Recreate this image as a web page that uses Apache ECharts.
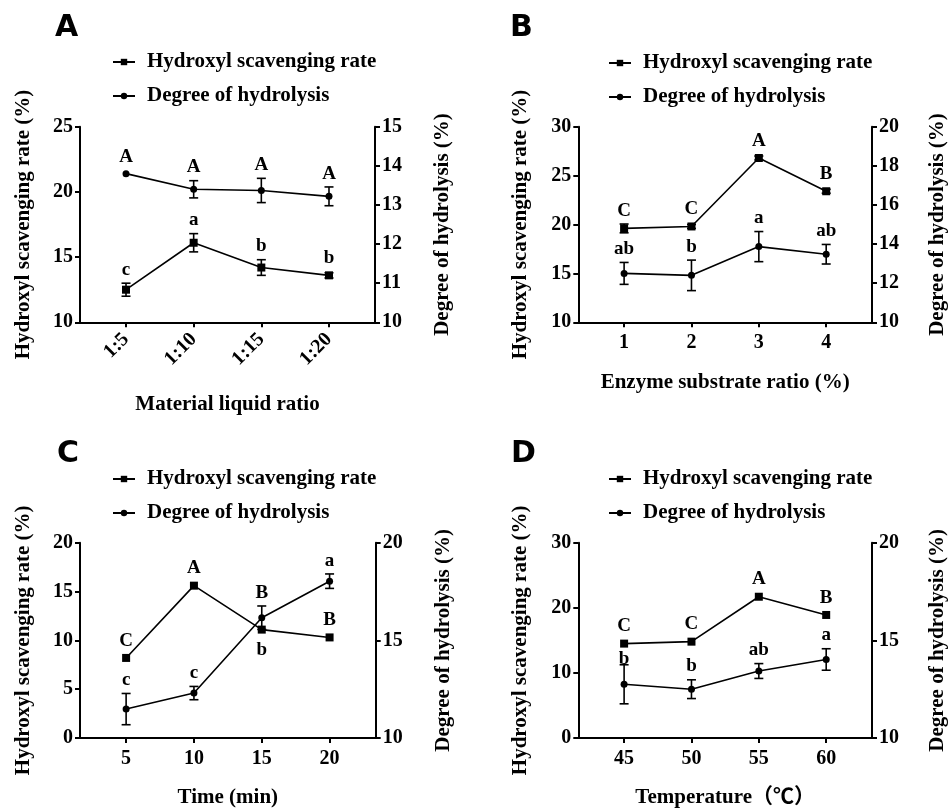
<!DOCTYPE html>
<html><head><meta charset="utf-8">
<script src="https://cdn.jsdelivr.net/npm/echarts@6/dist/echarts.min.js"></script>
<style>html,body{margin:0;padding:0;background:#fff}#c{width:949px;height:809px}</style>
</head><body><div id="c"></div>
<script>
// ---------- data ----------
const seriesNames = ['Hydroxyl scavenging rate', 'Degree of hydrolysis'];
const panelLetters = ['A', 'B', 'C', 'D'];
const leftTitle = 'Hydroxyl scavenging rate (%)';
const rightTitle = 'Degree of hydrolysis (%)';
const xTitles = ['Material liquid ratio', 'Enzyme substrate ratio (%)', 'Time (min)', 'Temperature（℃）'];

// Panel A
const aX = [1, 2, 3, 4];
const aXLabels = ['1:5', '1:10', '1:15', '1:20'];
const aHsr = [12.5, 16.1, 14.2, 13.6];
const aHsrErr = [0.5, 0.7, 0.6, 0.2];
const aDh = [13.8, 13.4, 13.37, 13.22];
const aDhErr = [0, 0.22, 0.31, 0.24];
const aHsrLet = ['c', 'a', 'b', 'b'];
const aDhLet = ['A', 'A', 'A', 'A'];
const aLeftTicks = [10, 25, 5];
const aRightTicks = [10, 15, 1];

// Panel B
const bX = [1, 2, 3, 4];
const bXLabels = ['1', '2', '3', '4'];
const bHsr = [19.6, 19.8, 26.8, 23.4];
const bHsrErr = [0.45, 0.2, 0.2, 0.2];
const bDh = [12.5, 12.4, 13.87, 13.48];
const bDhErr = [0.56, 0.78, 0.77, 0.5];
const bHsrLet = ['C', 'C', 'A', 'B'];
const bDhLet = ['ab', 'b', 'a', 'ab'];
const bLeftTicks = [10, 30, 5];
const bRightTicks = [10, 20, 2];

// Panel C
const cX = [5, 10, 15, 20];
const cXLabels = ['5', '10', '15', '20'];
const cHsr = [8.2, 15.6, 11.1, 10.3];
const cHsrErr = [0, 0, 0, 0];
const cDh = [11.48, 12.3, 16.16, 18.03];
const cDhErr = [0.8, 0.34, 0.6, 0.37];
const cHsrLet = ['C', 'A', 'B', 'B'];
const cDhLet = ['c', 'c', 'b', 'a'];
const cHsrPos = ['above', 'above', 'aboveAll', 'above'];
const cDhPos = ['above', 'above', 'belowAll', 'above'];
const cLeftTicks = [0, 20, 5];
const cRightTicks = [10, 20, 5];

// Panel D
const dX = [45, 50, 55, 60];
const dXLabels = ['45', '50', '55', '60'];
const dHsr = [14.5, 14.8, 21.7, 18.9];
const dHsrErr = [0, 0, 0, 0];
const dDh = [12.75, 12.5, 13.43, 14.02];
const dDhErr = [1.0, 0.48, 0.38, 0.55];
const dHsrLet = ['C', 'C', 'A', 'B'];
const dDhLet = ['b', 'b', 'ab', 'a'];
const dDhPos = ['tight', 'above', 'above', 'above'];
const dLeftTicks = [0, 30, 10];
const dRightTicks = [10, 20, 5];

const abovePos = ['above', 'above', 'above', 'above'];

// ---------- layout / style ----------
const SERIF = '"Liberation Serif", "Times New Roman", "Noto Sans CJK SC", serif';
const FS_LET = 19, FS_TICK = 20, FS_TXT = 21;
const grids = [
  { left: 80, top: 126.7, width: 295, height: 195.6 },
  { left: 578.3, top: 126.7, width: 295.7, height: 195.6 },
  { left: 80, top: 542.7, width: 295.7, height: 196.3 },
  { left: 578.3, top: 542.7, width: 295.7, height: 196.3 }
];
const xRanges = [[0.32, 4.68], [0.32, 4.68], [1.6, 23.4], [41.6, 63.4]];
const xNameGaps = [72, 50, 49, 49];
const leftNameGaps = [46, 47, 46, 47];
const rightNameGaps = [57, 55, 57, 55];
const legendPos = [[112, 51.5], [608, 52.5], [112, 468.5], [608, 468.5]];
const letterPos = [[55, 28], [510, 28], [57, 454], [511, 454]];

const panels = [
  { x: aX, xl: aXLabels, hsr: aHsr, hsrE: aHsrErr, dh: aDh, dhE: aDhErr, hl: aHsrLet, dl: aDhLet, hp: abovePos, dp: abovePos, L: aLeftTicks, R: aRightTicks, rot: 45 },
  { x: bX, xl: bXLabels, hsr: bHsr, hsrE: bHsrErr, dh: bDh, dhE: bDhErr, hl: bHsrLet, dl: bDhLet, hp: abovePos, dp: abovePos, L: bLeftTicks, R: bRightTicks, rot: 0 },
  { x: cX, xl: cXLabels, hsr: cHsr, hsrE: cHsrErr, dh: cDh, dhE: cDhErr, hl: cHsrLet, dl: cDhLet, hp: cHsrPos, dp: cDhPos, L: cLeftTicks, R: cRightTicks, rot: 0 },
  { x: dX, xl: dXLabels, hsr: dHsr, hsrE: dHsrErr, dh: dDh, dhE: dDhErr, hl: dHsrLet, dl: dDhLet, hp: abovePos, dp: dDhPos, L: dLeftTicks, R: dRightTicks, rot: 0 }
];

const axisLine = { show: true, lineStyle: { color: '#000', width: 2 } };
const axisTick = { show: true, length: 5, lineStyle: { color: '#000', width: 2 } };
const labelStyle = { color: '#000', fontFamily: SERIF, fontWeight: 'bold', fontSize: FS_TICK };
const nameStyle = { color: '#000', fontFamily: SERIF, fontWeight: 'bold', fontSize: FS_TXT };

const SQ = 8, CI = 7;

function ln(x1, y1, x2, y2) {
  return { type: 'line', shape: { x1: x1, y1: y1, x2: x2, y2: y2 }, style: { stroke: '#000', lineWidth: 1.6 } };
}

function errSeries(p, pn, which) {
  const own = which === 0
    ? { ys: pn.hsr, es: pn.hsrE, lets: pn.hl, pos: pn.hp, ax: pn.L, half: SQ / 2 }
    : { ys: pn.dh, es: pn.dhE, lets: pn.dl, pos: pn.dp, ax: pn.R, half: CI / 2 };
  const oth = which === 0
    ? { ys: pn.dh, es: pn.dhE, ax: pn.R, half: CI / 2 }
    : { ys: pn.hsr, es: pn.hsrE, ax: pn.L, half: SQ / 2 };
  return {
    type: 'custom',
    xAxisIndex: p,
    yAxisIndex: p * 2 + which,
    z: 5,
    silent: true,
    data: pn.x.map((x, i) => [x, own.ys[i], own.es[i], i]),
    renderItem: function (params, api) {
      const x = api.value(0), y = api.value(1), e = api.value(2), i = api.value(3);
      const c = api.coord([x, y]);
      const hi = api.coord([x, y + e]);
      const lo = api.coord([x, y - e]);
      const children = [];
      const cap = 4.5;
      if (e > 0) {
        children.push(ln(c[0], hi[1], c[0], lo[1]));
        children.push(ln(c[0] - cap, hi[1], c[0] + cap, hi[1]));
        children.push(ln(c[0] - cap, lo[1], c[0] + cap, lo[1]));
      }
      const pTop = api.coord([x, own.ax[1]])[1];
      const pBot = api.coord([x, own.ax[0]])[1];
      const oPx = v => pBot - (v - oth.ax[0]) / (oth.ax[1] - oth.ax[0]) * (pBot - pTop);
      const top = Math.min(hi[1], c[1] - own.half);
      const bot = Math.max(lo[1], c[1] + own.half);
      const oy = oth.ys[i], oe = oth.es[i];
      const oTop = Math.min(oPx(oy + oe), oPx(oy) - oth.half);
      const oBot = Math.max(oPx(oy - oe), oPx(oy) + oth.half);
      const mode = own.pos[i];
      let ty;
      if (mode === 'aboveAll') {
        ty = Math.min(top, oTop) - 7 - 6.3;
      } else if (mode === 'belowAll') {
        ty = Math.max(bot, oBot) + 10 + 13 - 6.3;
      } else if (mode === 'tight') {
        ty = top + 1 - 6.3;
      } else {
        ty = top - 7 - 6.3;
      }
      children.push({
        type: 'text',
        x: c[0], y: ty,
        style: {
          text: own.lets[i], fill: '#000',
          font: 'bold ' + FS_LET + 'px ' + SERIF,
          align: 'center', verticalAlign: 'middle'
        }
      });
      return { type: 'group', children: children };
    }
  };
}

const xAxes = [], yAxes = [], series = [], legends = [], graphics = [];
panels.forEach((pn, p) => {
  xAxes.push({
    type: 'value', gridIndex: p, min: xRanges[p][0], max: xRanges[p][1],
    axisLine: axisLine,
    axisTick: Object.assign({}, axisTick, { customValues: pn.x }),
    axisLabel: Object.assign({}, labelStyle, {
      customValues: pn.x, margin: p === 0 ? 14 : 11, rotate: pn.rot,
      formatter: v => pn.xl[pn.x.indexOf(v)]
    }),
    splitLine: { show: false },
    name: xTitles[p], nameLocation: 'middle', nameGap: xNameGaps[p], nameTextStyle: nameStyle
  });
  yAxes.push({
    type: 'value', gridIndex: p, position: 'left',
    min: pn.L[0], max: pn.L[1], interval: pn.L[2],
    axisLine: axisLine, axisTick: axisTick,
    axisLabel: Object.assign({}, labelStyle, { margin: 7 }),
    splitLine: { show: false },
    name: leftTitle, nameLocation: 'middle', nameGap: leftNameGaps[p], nameRotate: 90, nameTextStyle: nameStyle
  });
  yAxes.push({
    type: 'value', gridIndex: p, position: 'right',
    min: pn.R[0], max: pn.R[1], interval: pn.R[2],
    axisLine: axisLine, axisTick: axisTick,
    axisLabel: Object.assign({}, labelStyle, { margin: 7 }),
    splitLine: { show: false },
    name: rightTitle, nameLocation: 'middle', nameGap: rightNameGaps[p], nameRotate: 90, nameTextStyle: nameStyle
  });
  series.push({
    type: 'line', name: seriesNames[0], xAxisIndex: p, yAxisIndex: p * 2,
    data: pn.x.map((x, i) => [x, pn.hsr[i]]),
    symbol: 'rect', symbolSize: SQ, showAllSymbol: true,
    lineStyle: { color: '#000', width: 1.6 }, itemStyle: { color: '#000' },
    z: 4, silent: true, animation: false
  });
  series.push({
    type: 'line', name: seriesNames[1], xAxisIndex: p, yAxisIndex: p * 2 + 1,
    data: pn.x.map((x, i) => [x, pn.dh[i]]),
    symbol: 'circle', symbolSize: CI, showAllSymbol: true,
    lineStyle: { color: '#000', width: 1.6 }, itemStyle: { color: '#000' },
    z: 4, silent: true, animation: false
  });
  series.push(errSeries(p, pn, 0));
  series.push(errSeries(p, pn, 1));
  legends.push({
    orient: 'vertical', left: legendPos[p][0], top: legendPos[p][1], padding: 0,
    itemWidth: 22, itemHeight: 8, itemGap: 13, selectedMode: false,
    data: seriesNames,
    textStyle: { color: '#000', fontFamily: SERIF, fontWeight: 'bold', fontSize: FS_TXT, padding: [0, 0, 0, 7] }
  });
  graphics.push({
    type: 'text', x: letterPos[p][0], y: letterPos[p][1],
    style: { text: panelLetters[p], fill: '#000', font: 'bold 30px "DejaVu Sans", Arial, sans-serif', align: 'left', verticalAlign: 'middle' }
  });
});

const chart = echarts.init(document.getElementById('c'), null, { renderer: 'canvas' });
chart.setOption({
  backgroundColor: '#fff',
  animation: false,
  grid: grids,
  xAxis: xAxes,
  yAxis: yAxes,
  series: series,
  legend: legends,
  graphic: graphics
});
</script>
</body></html>
